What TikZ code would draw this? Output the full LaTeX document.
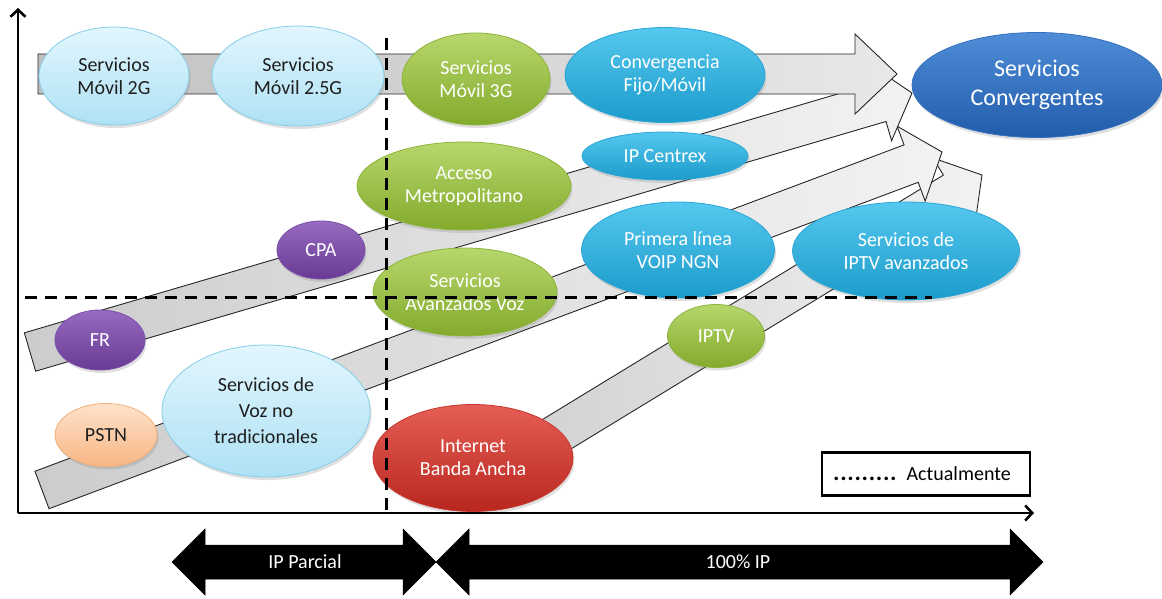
\documentclass[tikz,border=0pt]{standalone}
\usepackage{fontspec}
\setmainfont{Carlito}
\usetikzlibrary{shapes.geometric,calc,arrows.meta,shadows}
\definecolor{lbT}{HTML}{E2F6FD}\definecolor{lbB}{HTML}{AEE1F5}\definecolor{lbD}{HTML}{86CDE8}
\definecolor{grT}{HTML}{B6D76C}\definecolor{grB}{HTML}{83AA2C}\definecolor{grD}{HTML}{8DB43A}
\definecolor{tlT}{HTML}{55C8EE}\definecolor{tlB}{HTML}{1C9BCB}\definecolor{tlD}{HTML}{2AA6D6}
\definecolor{dbT}{HTML}{4F8DD8}\definecolor{dbB}{HTML}{215CAA}\definecolor{dbD}{HTML}{3470BE}
\definecolor{puT}{HTML}{976BC0}\definecolor{puB}{HTML}{683A95}\definecolor{puD}{HTML}{7A4DA6}
\definecolor{orT}{HTML}{FEE2CA}\definecolor{orB}{HTML}{F8B684}\definecolor{orD}{HTML}{F2AE78}
\definecolor{rdT}{HTML}{E55E55}\definecolor{rdB}{HTML}{B9271F}\definecolor{rdD}{HTML}{C8362E}
\newcommand{\fatband}[5]{%
  \coordinate (#4-base) at ($(#3)!#5!(#2)$);
  \path[#1] ($(#2)!20pt!90:(#3)$) -- ($(#4-base)!20pt!-90:(#2)$) -- ($(#4-base)!40pt!-90:(#2)$) -- (#3) -- ($(#4-base)!40pt!90:(#2)$) -- ($(#4-base)!20pt!90:(#2)$) -- ($(#2)!20pt!-90:(#3)$) -- cycle;}
\begin{document}
\begin{tikzpicture}[x=1pt,y=-1pt,
  band/.style={draw=black!85, line width=0.9pt, left color=black!20, right color=black!5},
  topband/.style={draw=black!85, line width=0.9pt, left color=black!25, right color=black!9},
  ell/.style={ellipse, inner sep=0pt, align=center, line width=0.8pt, font=\fontsize{20}{23}\selectfont,
    drop shadow={opacity=0.25,shadow xshift=1.5pt,shadow yshift=-3pt}},
  elb/.style={ell, top color=lbT, bottom color=lbB, draw=lbD, text=black!88},
  egr/.style={ell, top color=grT, bottom color=grB, draw=grD, text=white},
  etl/.style={ell, top color=tlT, bottom color=tlB, draw=tlD, text=white},
  edb/.style={ell, top color=dbT, bottom color=dbB, draw=dbD, text=white},
  epu/.style={ell, top color=puT, bottom color=puB, draw=puD, text=white},
  eor/.style={ell, top color=orT, bottom color=orB, draw=orD, text=black!88},
  erd/.style={ell, top color=rdT, bottom color=rdB, draw=rdD, text=white},
  dashline/.style={line width=3pt, dash pattern=on 12pt off 8pt},
  axisline/.style={line width=2.6pt, -{Straight Barb[length=7pt,width=15pt]}},
  blackarrow/.style={fill=black, draw=black, line width=0.5pt},
  lbl/.style={font=\fontsize{20}{23}\selectfont}
]
\useasboundingbox (0,0) rectangle (1162,599);
\fill[white] (0,0) rectangle (1162,599);

% band coordinates
\coordinate (cS) at (457,495); \coordinate (cT) at (982,175);
\coordinate (bS) at (42,490);  \coordinate (bT) at (942,152);
\coordinate (aS) at (30,352);  \coordinate (aT) at (912,93);
\coordinate (tS) at (38,74);   \coordinate (tT) at (897,74);

\fatband{band}{cS}{cT}{c}{33pt}
\fatband{band}{bS}{bT}{b}{33pt}
\fatband{band}{aS}{aT}{a}{33pt}
\fatband{topband}{tS}{tT}{t}{42pt}

% ellipses
\node[elb, minimum width=150pt, minimum height=98pt]  (m2g)  at (114,76)  {Servicios\\Móvil 2G};
\node[elb, minimum width=172pt, minimum height=100pt] (m25)  at (298,76)  {Servicios\\Móvil 2.5G};
\node[egr, minimum width=148pt, minimum height=92pt]  (m3g)  at (476,79)  {Servicios\\Móvil 3G};
\node[etl, minimum width=200pt, minimum height=95pt]  (conv) at (665,75)  {Convergencia\\Fijo/Móvil};
\node[edb, minimum width=250pt, minimum height=105pt, font=\fontsize{24}{29}\selectfont] (sc) at (1037,85) {Servicios\\Convergentes};
\node[egr, minimum width=214pt, minimum height=88pt]  (acc)  at (464,186) {Acceso\\Metropolitano};
\node[etl, minimum width=166pt, minimum height=48pt]  (ipc)  at (665,156) {IP Centrex};
\node[epu, minimum width=88pt,  minimum height=58pt]  (cpa)  at (321,250) {CPA};
\node[etl, minimum width=193pt, minimum height=96pt]  (voip) at (678,250) {Primera línea\\VOIP NGN};
\node[etl, minimum width=227pt, minimum height=98pt]  (iptva) at (906,251) {Servicios de\\IPTV avanzados};
\node[egr, minimum width=184pt, minimum height=88pt]  (sav)  at (465,292) {Servicios\\Avanzados Voz};
\node[epu, minimum width=90pt,  minimum height=60pt]  (fr)   at (100,340) {FR};
\node[egr, minimum width=97pt,  minimum height=63pt]  (iptv) at (716,336) {IPTV};
\node[elb, minimum width=208pt, minimum height=132pt, font=\fontsize{20}{26}\selectfont] (voz) at (266,411) {Servicios de\\Voz no\\tradicionales};
\node[eor, minimum width=102pt, minimum height=63pt]  (pstn) at (106,435) {PSTN};
\node[erd, minimum width=200pt, minimum height=107pt] (iba)  at (473,458) {Internet\\Banda Ancha};

% current-state dashed lines
\coordinate (vT) at (386,38);  \coordinate (vB) at (386,513);
\coordinate (hL) at (25,297);  \coordinate (hR) at (932,297);
\draw[dashline] (vT) -- (vB);
\draw[dashline] (hL) -- (hR);

% axes
\coordinate (O) at (18,513); \coordinate (Yt) at (18,8); \coordinate (Xr) at (1034,513);
\draw[axisline] (O) -- (Yt);
\draw[axisline] (O) -- (Xr);

% legend
\node[draw, line width=2.2pt, minimum width=208pt, minimum height=43pt, inner sep=0pt] (leg) at (926,474) {};
\node[lbl, anchor=west, inner sep=0pt] (legtxt) at (833,474) {{\fontsize{24}{23}\selectfont\bfseries\addfontfeatures{LetterSpace=3}.........}\hspace{10pt}Actualmente};

% bottom arrows
\coordinate (ipL) at (172,562); \coordinate (ipM) at (436,562); \coordinate (ipR) at (1043,562);
\path[blackarrow] (ipL) -- (205,529) -- (205,545) -- (403,545) -- (403,529) -- (ipM) -- (403,595) -- (403,579) -- (205,579) -- (205,595) -- cycle;
\path[blackarrow] (ipM) -- (469,529) -- (469,545) -- (1010,545) -- (1010,529) -- (ipR) -- (1010,595) -- (1010,579) -- (469,579) -- (469,595) -- cycle;
\node[lbl, text=white] (ipp) at (305,562) {IP Parcial};
\node[lbl, text=white] (ip100) at (738,562) {100\% IP};
\end{tikzpicture}
\end{document}
